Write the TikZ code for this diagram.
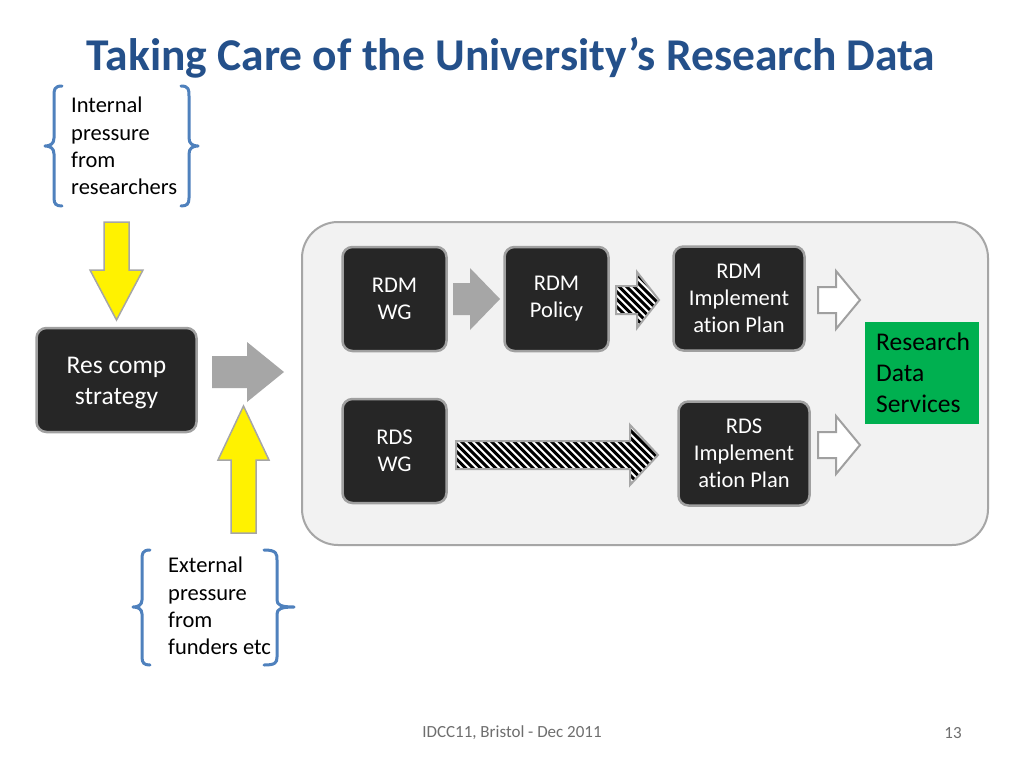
\documentclass[tikz,border=0pt]{standalone}
\usepackage{fontspec}
\setmainfont{Carlito}[Ligatures={NoCommon}]
\definecolor{titleblue}{RGB}{36,80,138}
\definecolor{boxdark}{RGB}{38,38,38}
\definecolor{boxedge}{RGB}{160,160,160}
\definecolor{panel}{RGB}{242,242,242}
\definecolor{arrowgrey}{RGB}{166,166,166}
\definecolor{bracecol}{RGB}{79,129,189}
\definecolor{rdsgreen}{RGB}{0,176,80}
\definecolor{footgrey}{RGB}{110,110,110}
\begin{document}
\begin{tikzpicture}[x=1pt,y=-1pt,
  darkbox/.style={draw=boxedge,line width=2.5pt,fill=boxdark,rounded corners=10pt,text=white,align=center,inner sep=0pt},
  bracestyle/.style={draw=bracecol,line width=3pt,line cap=round,line join=round},
  lbl/.style={align=left,anchor=north west,inner sep=0pt,font=\fontsize{22.5}{27.3}\selectfont},
  yarrow/.style={fill=yellow,draw=arrowgrey,line width=1.5pt,line join=miter},
  garrow/.style={fill=arrowgrey,draw=none},
  hline/.style={line width=3pt,black},
  hedge/.style={draw=arrowgrey,line width=2pt},
  oarrow/.style={fill=white,draw=boxedge,line width=2pt}]
\useasboundingbox (0,0) rectangle (1024,768);
\fill[white] (0,0) rectangle (1024,768);
% title
\node[font=\fontsize{45.5}{50}\bfseries\selectfont,text=titleblue,anchor=center] (title) at (511,58) {Taking Care of the University’s Research Data};
% internal pressure
\node[lbl] (intl) at (71,97) {Internal\\pressure\\from\\researchers};
\draw[bracestyle] (62,86) .. controls (54,86) and (54,90) .. (54,96) -- (54,138) .. controls (54,144) and (50,146) .. (45,146)
   .. controls (50,146) and (54,148) .. (54,154) -- (54,198) .. controls (54,204) and (56,206) .. (62,206);
\draw[bracestyle] (181,86) .. controls (189,86) and (189,90) .. (189,96) -- (189,138) .. controls (189,144) and (193,146) .. (198,146)
   .. controls (193,146) and (189,148) .. (189,154) -- (189,198) .. controls (189,204) and (187,206) .. (181,206);
% external pressure
\node[lbl] (extl) at (168,557) {External\\pressure\\from\\funders etc};
\draw[bracestyle] (150,550) .. controls (142,550) and (142,554) .. (142,560) -- (142,600) .. controls (142,605) and (138,607) .. (133,607)
   .. controls (138,607) and (142,609) .. (142,614) -- (142,657) .. controls (142,663) and (144,665) .. (150,665);
\draw[bracestyle] (264,550) .. controls (277,550) and (277,554) .. (277,560) -- (277,600) .. controls (277,605) and (281,607) .. (294,607)
   .. controls (281,607) and (277,609) .. (277,614) -- (277,657) .. controls (277,663) and (275,665) .. (264,665);
% yellow arrows
\draw[yarrow] (104,222) -- (129,222) -- (129,270) -- (143,270) -- (116.5,320) -- (90,270) -- (104,270) -- cycle;
\draw[yarrow] (231,533) -- (256,533) -- (256,460) -- (269,460) -- (243.5,406) -- (218,460) -- (231,460) -- cycle;
% Res comp strategy
\node[darkbox,minimum width=160pt,minimum height=104pt] (rcs) at (116.5,380) {};
\node[text=white,align=center,inner sep=0pt,font=\fontsize{25.5}{31}\selectfont] (rcstext) at (116.5,383) {Res comp\\strategy};
\fill[garrow] (212,356) -- (247,356) -- (247,342) -- (284,372) -- (247,402) -- (247,388) -- (212,388) -- cycle;
% panel
\node[draw=arrowgrey,line width=2pt,fill=panel,rounded corners=36pt,minimum width=686pt,minimum height=323pt,inner sep=0pt] (panel) at (645,383.5) {};
% boxes
\tikzset{inbox/.style={darkbox,minimum height=104pt,font=\fontsize{22.5}{27}\selectfont}}
\node[inbox,minimum width=104pt] (rdmwg) at (394.5,299) {RDM\\WG};
\node[inbox,minimum width=104pt] (rdmpol) at (556.5,299) {RDM\\Policy};
\node[inbox,minimum width=131pt] (rdmip) at (739,298.5) {RDM\\Implement\\ation Plan};
\node[inbox,minimum width=104pt] (rdswg) at (394.5,451) {RDS\\WG};
\node[inbox,minimum width=131pt] (rdsip) at (744,453.5) {RDS\\Implement\\ation Plan};
% green box
\node[fill=rdsgreen,minimum width=114pt,minimum height=102pt,inner sep=0pt] (rds) at (922,373) {};
\node[anchor=north west,inner sep=0pt,align=left,font=\fontsize{25.5}{31}\selectfont] (rdstext) at (876,333) {Research\\Data\\Services};
% arrows inside panel
\fill[garrow] (453,283) -- (470,283) -- (470,268) -- (500,299) -- (470,330) -- (470,315) -- (453,315) -- cycle;
% hatched small arrow
\fill[white] (616,286) -- (637,286) -- (637,272) -- (659,300) -- (637,328) -- (637,314) -- (616,314) -- cycle;
\begin{scope}
\clip (616,286) -- (637,286) -- (637,272) -- (659,300) -- (637,328) -- (637,314) -- (616,314) -- cycle;
\foreach \k in {0,...,13} {\draw[hline] (560+7.5*\k,250) -- ++(100,100);}
\end{scope}
\draw[hedge] (616,286) -- (637,286) -- (637,272) -- (659,300) -- (637,328) -- (637,314) -- (616,314) -- cycle;
% hatched long arrow
\fill[white] (456,441) -- (630,441) -- (630,425) -- (658,455) -- (630,485) -- (630,469) -- (456,469) -- cycle;
\begin{scope}
\clip (456,441) -- (630,441) -- (630,425) -- (658,455) -- (630,485) -- (630,469) -- (456,469) -- cycle;
\foreach \k in {0,...,40} {\draw[hline] (390+7.5*\k,400) -- ++(100,100);}
\end{scope}
\draw[hedge] (456,441) -- (630,441) -- (630,425) -- (658,455) -- (630,485) -- (630,469) -- (456,469) -- cycle;
% outline arrows
\draw[oarrow] (818,287) -- (836,287) -- (836,271) -- (860,300) -- (836,329) -- (836,313) -- (818,313) -- cycle;
\draw[oarrow] (818,432) -- (836,432) -- (836,416) -- (860,445) -- (836,474) -- (836,458) -- (818,458) -- cycle;
% footer
\node[text=footgrey,font=\fontsize{17}{20}\selectfont] (foot) at (512,733) {IDCC11, Bristol - Dec 2011};
\node[text=footgrey,font=\fontsize{17}{20}\selectfont] (page) at (953,733) {13};
\end{tikzpicture}
\end{document}
